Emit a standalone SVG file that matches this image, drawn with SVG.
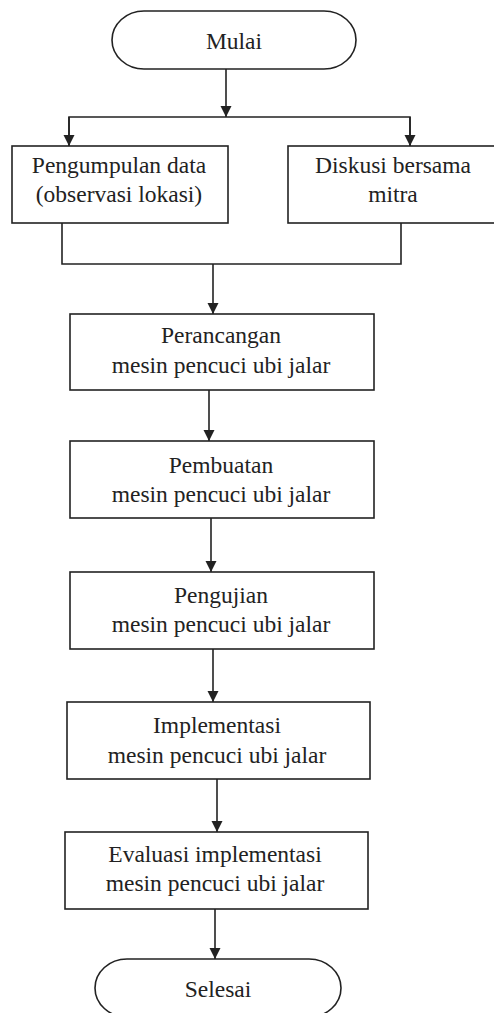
<svg xmlns="http://www.w3.org/2000/svg" width="494" height="1013" viewBox="0 0 494 1013">
<style>
.box{fill:#fff;stroke:#222;stroke-width:1.6}
.ln{fill:none;stroke:#222;stroke-width:1.6}
.t{font-family:"Liberation Serif","Times New Roman","DejaVu Serif",serif;font-size:23.5px;fill:#222;text-anchor:middle}
</style>
<defs>
<marker id="a2" markerUnits="userSpaceOnUse" markerWidth="12" markerHeight="12" viewBox="0 0 12 12" refX="11" refY="6" orient="auto">
<path d="M0,0.5 L11,6 L0,11.5 Z" fill="#222"/>
</marker>
</defs>
<rect width="494" height="1013" fill="#fff"/>
<g id="connectors">
<line class="ln" x1="226" y1="69" x2="226" y2="117" marker-end="url(#a2)"/>
<path class="ln" d="M69,146 V117 H410 V146"/>
<path class="ln" d="M62,223 V264 H401 V223"/>
<line class="ln" x1="69" y1="117" x2="69" y2="146" marker-end="url(#a2)"/>
<line class="ln" x1="410" y1="117" x2="410" y2="146" marker-end="url(#a2)"/>
<line class="ln" x1="213" y1="264" x2="213" y2="314" marker-end="url(#a2)"/>
<line class="ln" x1="209" y1="390" x2="209" y2="441" marker-end="url(#a2)"/>
<line class="ln" x1="211" y1="518" x2="211" y2="572" marker-end="url(#a2)"/>
<line class="ln" x1="213" y1="649" x2="213" y2="702" marker-end="url(#a2)"/>
<line class="ln" x1="217" y1="779" x2="217" y2="832" marker-end="url(#a2)"/>
<line class="ln" x1="215" y1="909" x2="215" y2="959" marker-end="url(#a2)"/>
</g>
<g id="mulai">
<rect class="box" x="112" y="11" width="244" height="58" rx="32" ry="29"/>
<text class="t" x="234" y="49">Mulai</text>
</g>
<g id="pengumpulan">
<rect class="box" x="12" y="146" width="216" height="77"/>
<text class="t" x="119" y="173">Pengumpulan data</text>
<text class="t" x="119" y="202">(observasi lokasi)</text>
</g>
<g id="diskusi">
<rect class="box" x="288" y="146" width="220" height="77"/>
<text class="t" x="393" y="173">Diskusi bersama</text>
<text class="t" x="393" y="202">mitra</text>
</g>
<g id="perancangan">
<rect class="box" x="70" y="314" width="304" height="76"/>
<text class="t" x="221" y="343">Perancangan</text>
<text class="t" x="221" y="373">mesin pencuci ubi jalar</text>
</g>
<g id="pembuatan">
<rect class="box" x="70" y="441" width="304" height="77"/>
<text class="t" x="221" y="473">Pembuatan</text>
<text class="t" x="221" y="502">mesin pencuci ubi jalar</text>
</g>
<g id="pengujian">
<rect class="box" x="70" y="572" width="304" height="77"/>
<text class="t" x="221" y="603">Pengujian</text>
<text class="t" x="221" y="632">mesin pencuci ubi jalar</text>
</g>
<g id="implementasi">
<rect class="box" x="67" y="702" width="303" height="77"/>
<text class="t" x="217" y="733">Implementasi</text>
<text class="t" x="217" y="763">mesin pencuci ubi jalar</text>
</g>
<g id="evaluasi">
<rect class="box" x="65" y="832" width="303" height="77"/>
<text class="t" x="215" y="862">Evaluasi implementasi</text>
<text class="t" x="215" y="891">mesin pencuci ubi jalar</text>
</g>
<g id="selesai">
<rect class="box" x="95" y="959" width="246" height="58" rx="32" ry="29"/>
<text class="t" x="218" y="997">Selesai</text>
</g>
</svg>
